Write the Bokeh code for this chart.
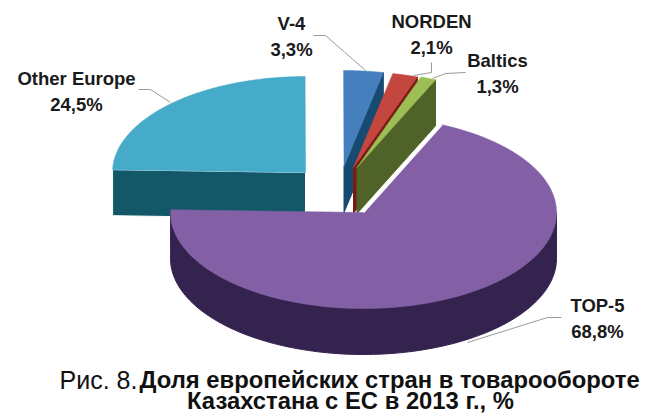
import numpy as np
from bokeh.plotting import figure
from bokeh.embed import file_html
from bokeh.resources import INLINE
from bokeh.core.properties import value

names = ["TOP-5", "Other Europe", "V-4", "NORDEN", "Baltics"]
shares = [68.8, 24.5, 3.3, 2.1, 1.3]
share_labels = ["68,8%", "24,5%", "3,3%", "2,1%", "1,3%"]
top_colors = ["#8360A6", "#45ABC8", "#457FBE", "#C4473F", "#9BBF55"]
side_colors = ["#35234F", "#125869", "#174A70", "#7A1A14", "#4F6228"]
caption_regular = "Рис. 8."
caption_bold_1 = "Доля европейских стран в товарообороте"
caption_bold_2 = "Казахстана с ЕС в 2013 г., %"

START_DEG = 24.0
RX, RY, DEPTH = 193.0, 96.0, 46.0
apex = {"TOP-5": (363, 212), "Other Europe": (305, 172), "V-4": (343.5, 166),
        "NORDEN": (353, 167), "Baltics": (356.5, 167)}
label_pos = {"TOP-5": (597, 305), "Other Europe": (76, 78), "V-4": (291, 23),
             "NORDEN": (431, 21), "Baltics": (497, 60)}
leaders = {"TOP-5": ([561, 547, 467], [317, 317, 342]),
           "Other Europe": ([138, 150, 170], [89, 89, 102]),
           "V-4": ([313, 325, 365], [35, 35, 70]),
           "NORDEN": ([431, 431, 413], [62, 72, 75]),
           "Baltics": ([465, 445, 432], [72, 73, 78])}

p = figure(width=646, height=414, x_range=(0, 646), y_range=(414, 0),
           output_backend="svg", toolbar_location=None, min_border=0)
p.axis.visible = False
p.grid.visible = False
p.outline_line_color = None
p.background_fill_color = "white"


def rim(cx, cy, a, b, n=120):
    t = np.radians(np.linspace(a, b, n))
    return cx + RX * np.sin(t), cy - RY * np.cos(t)


spans = {}
ang = START_DEG
for nm, s in zip(names, shares):
    spans[nm] = (ang, ang + s * 3.6)
    ang += s * 3.6

colors = dict(zip(names, zip(top_colors, side_colors)))
for nm in ["Other Europe", "V-4", "NORDEN", "Baltics", "TOP-5"]:
    a, b = spans[nm]
    cx, cy = apex[nm]
    top, side = colors[nm]
    xs, ys = rim(cx, cy, a, b)
    if nm == "TOP-5":
        wx, wy = rim(cx, cy, 90, b)
        p.patch(np.r_[wx, wx[::-1]], np.r_[wy + DEPTH, wy[::-1]], fill_color=side, line_color=side)
    elif nm == "Other Europe":
        p.patch([xs[0], cx, cx, xs[0]], [ys[0], cy, cy + DEPTH, ys[0] + DEPTH],
                fill_color=side, line_color="white", line_width=1)
    else:
        p.patch([xs[-1], cx, cx, xs[-1]], [ys[-1], cy, cy + DEPTH, ys[-1] + DEPTH],
                fill_color=side, line_color=side)
    p.patch(np.r_[cx, xs], np.r_[cy, ys], fill_color=top, line_color=top, line_width=0.5)
    if nm == "TOP-5":
        p.line([xs[0], cx], [ys[0], cy], line_color="white", line_width=1.5)

for nm, (lx, ly) in leaders.items():
    p.line(lx, ly, line_color="#9a9a9a", line_width=1)

font = value("Liberation Sans")
for nm, lab in zip(names, share_labels):
    x, y = label_pos[nm]
    p.text([x], [y], text=[nm], text_font=font, text_font_size="18.5px", text_font_style="bold",
           text_align="center", text_baseline="middle", text_color="#1a1a1a")
    p.text([x], [y + 26], text=[lab], text_font=font, text_font_size="18.5px", text_font_style="bold",
           text_align="center", text_baseline="middle", text_color="#1a1a1a")

p.text([59], [379], text=[caption_regular], text_font=font, text_font_size="25px",
       text_align="left", text_baseline="middle", text_color="#111111")
p.text([139], [379], text=[caption_bold_1], text_font=font, text_font_size="23.8px", text_font_style="bold",
       text_align="left", text_baseline="middle", text_color="#111111")
p.text([350], [399.5], text=[caption_bold_2], text_font=font, text_font_size="23.8px", text_font_style="bold",
       text_align="center", text_baseline="middle", text_color="#111111")

open("out.html", "w").write(file_html(p, INLINE))
